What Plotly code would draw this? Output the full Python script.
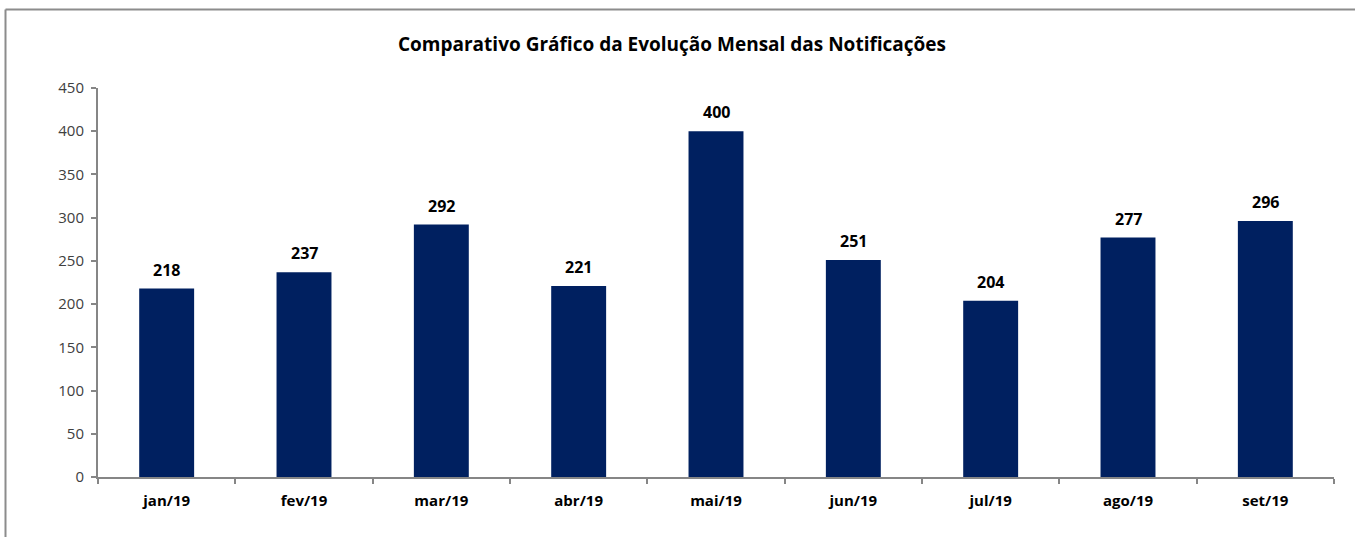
import plotly.graph_objects as go

months = ["jan/19", "fev/19", "mar/19", "abr/19", "mai/19", "jun/19", "jul/19", "ago/19", "set/19"]
values = [218, 237, 292, 221, 400, 251, 204, 277, 296]
title_text = "Comparativo Gráfico da Evolução Mensal das Notificações"

FONT = "Open Sans"
AXIS_COLOR = "#868686"
BAR_COLOR = "#002060"

fig = go.Figure()
fig.add_trace(go.Bar(
    x=months, y=values,
    marker=dict(color=BAR_COLOR, line=dict(width=0)),
    hoverinfo="x+y",
))

annotations = [
    dict(x=m, y=v, text=f"<b>{v}</b>", showarrow=False, yanchor="middle",
         yshift=19, font=dict(family=FONT, size=16, color="#000000"))
    for m, v in zip(months, values)
]

L, R, T, B = 98, 21, 88, 60
W, H = 1355, 537
pw, ph = W - L - R, H - T - B

def px_to_paper_x(px):
    return (px - L) / pw

def px_to_paper_y(py):
    return (H - B - py) / ph

border = dict(color="#8c8c8c", width=2)
shapes = [
    dict(type="line", xref="paper", yref="paper",
         x0=px_to_paper_x(5.5), x1=px_to_paper_x(1360),
         y0=px_to_paper_y(9.5), y1=px_to_paper_y(9.5), line=border),
    dict(type="line", xref="paper", yref="paper",
         x0=px_to_paper_x(5.5), x1=px_to_paper_x(5.5),
         y0=px_to_paper_y(9.5), y1=px_to_paper_y(545), line=border),
]

fig.update_layout(
    width=W, height=H,
    margin=dict(l=L, r=R, t=T, b=B),
    paper_bgcolor="white", plot_bgcolor="white",
    bargap=0.6,
    showlegend=False,
    title=dict(text=f"<b>{title_text}</b>", x=(672 - L) / pw, xref="paper", xanchor="center",
               y=1 - 44 / H, yanchor="middle",
               font=dict(family=FONT, size=19, color="#000000")),
    font=dict(family=FONT, size=15, color="#404040"),
    annotations=annotations,
    shapes=shapes,
)

fig.update_xaxes(
    type="category",
    showline=True, linecolor=AXIS_COLOR, linewidth=2,
    ticks="outside", tickson="boundaries", ticklen=5, tickcolor=AXIS_COLOR, tickwidth=2,
    tickfont=dict(family=FONT, size=15, color="#000000", weight="bold"),
    ticklabelstandoff=9,
    showgrid=False,
)
fig.update_yaxes(
    range=[0, 450], dtick=50, tick0=0,
    showline=True, linecolor=AXIS_COLOR, linewidth=2,
    ticks="outside", ticklen=5, tickcolor=AXIS_COLOR, tickwidth=2,
    tickfont=dict(family=FONT, size=15, color="#404040"),
    ticklabelstandoff=4,
    showgrid=False, zeroline=False,
)

fig.write_html("out.html", config={"displayModeBar": False},
               post_script="document.body.style.margin='0';document.body.style.overflow='hidden';")
